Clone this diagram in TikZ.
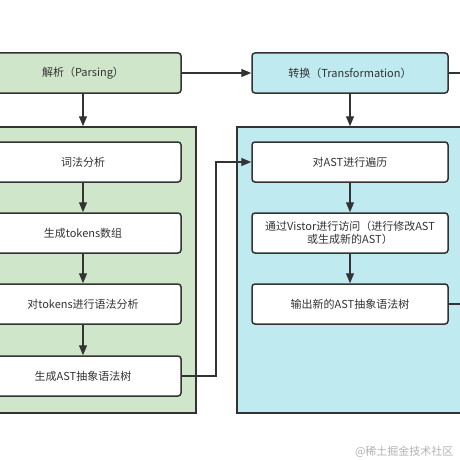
\documentclass[tikz,border=0pt]{standalone}
\usepackage{fontspec}
\newfontfamily\cjk{Noto Sans CJK SC}
\usetikzlibrary{arrows.meta}
\definecolor{parsegreen}{HTML}{D0E6CA}
\definecolor{transblue}{HTML}{BEEAF0}
\definecolor{linegray}{HTML}{333333}
\begin{document}
\begin{tikzpicture}[x=1pt,y=-1pt,
  panel/.style={draw=linegray,line width=1.5pt,minimum width=226pt,minimum height=286pt,inner sep=0pt},
  stepbox/.style={draw=linegray,line width=1.5pt,rounded corners=3pt,fill=white,minimum width=196pt,minimum height=40pt,inner sep=0pt,align=center,text=linegray,font=\cjk\fontsize{11}{13}\selectfont},
  flow/.style={draw=linegray,line width=1.3pt,-{Triangle[length=10pt,width=8pt]}},
  link/.style={draw=linegray,line width=1.3pt}]
\useasboundingbox (0,0) rectangle (460,460);
\clip (0,0) rectangle (460,460);

\node[panel,fill=parsegreen] (parsepanel) at (83,270) {};
\node[panel,fill=transblue] (transpanel) at (350,270) {};

\node[stepbox,fill=parsegreen] (parse) at (83,73) {解析（Parsing）};
\node[stepbox,fill=transblue] (trans) at (350,73) {转换（Transformation）};

\node[stepbox] (lex) at (83,162) {词法分析};
\node[stepbox] (tokens) at (83,233) {生成tokens数组};
\node[stepbox] (syntax) at (83,304) {对tokens进行语法分析};
\node[stepbox] (ast) at (83,376) {生成AST抽象语法树};

\node[stepbox] (walk) at (350,162) {对AST进行遍历};
\node[stepbox] (visit) at (350,233) {通过Vistor进行访问（进行修改AST\\或生成新的AST）};
\node[stepbox] (newast) at (350,304) {输出新的AST抽象语法树};

\coordinate (transout) at (470,73);
\coordinate (newastout) at (470,304);
\coordinate (astbend) at (216,376);

\draw[flow] (parse.east) -- (trans.west);
\draw[link] (trans.east) -- (transout);
\draw[flow] (parse.south) -- (parsepanel.north);
\draw[flow] (trans.south) -- (transpanel.north);

\draw[flow] (lex.south) -- (tokens.north);
\draw[flow] (tokens.south) -- (syntax.north);
\draw[flow] (syntax.south) -- (ast.north);
\draw[flow] (ast.east) -- (astbend) |- (walk.west);

\draw[flow] (walk.south) -- (visit.north);
\draw[flow] (visit.south) -- (newast.north);
\draw[link] (newast.east) -- (newastout);

\node[anchor=east,text=gray!60,font=\cjk\fontsize{11}{11}\selectfont] (mark) at (457,452) {@稀土掘金技术社区};
\end{tikzpicture}
\end{document}
